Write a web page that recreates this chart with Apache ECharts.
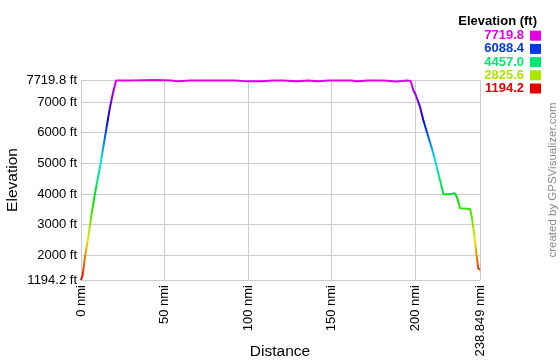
<!DOCTYPE html>
<html>
<head>
<meta charset="utf-8">
<script src="https://cdn.jsdelivr.net/npm/echarts@6/dist/echarts.min.js"></script>
<style>
html,body{margin:0;padding:0;background:#fff;}
#chart{width:560px;height:360px;}
</style>
</head>
<body>
<div id="chart"></div>
<script>
const distances = [
  0, 0.6, 1.0, 2.4, 4.4, 6.4, 8.4, 11.4, 14.4, 17.4, 19.3, 21.0,
  29.0, 29.5, 30.0, 45, 54, 55, 58, 59, 65, 65.5, 80, 87, 88, 92, 93, 100, 101, 108, 109, 115, 121, 122, 129, 130,
  136, 137, 142, 143, 148, 148.5, 155, 162, 163, 165, 166, 172, 172.5, 181, 182, 189, 190, 195, 195.5, 197.4,
  198.9, 200.4, 202.9, 204.9, 207.9, 210.9, 213.9, 215.9, 216.9, 219.9, 222.0, 223.9, 225.3, 226.9, 232.9,
  233.9, 235.3, 236.9, 237.8, 238.849
];
const elevations = [
  1194.2, 1290, 1357, 1955, 2608, 3371, 4023, 4893, 5872, 6849, 7338, 7700,
  7705, 7675, 7705, 7719.8, 7705, 7675, 7680, 7705, 7700, 7675, 7705, 7700, 7670, 7705, 7680, 7675, 7700, 7680, 7705, 7700, 7705, 7675, 7680, 7705,
  7700, 7675, 7680, 7705, 7700, 7675, 7705, 7700, 7675, 7680, 7705, 7700, 7675, 7700, 7680, 7670, 7705, 7700, 7700, 7687,
  7393, 7230, 6849, 6415, 5870, 5328, 4676, 4238, 3990, 3990, 4010, 4023, 3860, 3534, 3510,
  3260, 2720, 1955, 1576, 1520
];
const yTicks = [1194.2, 2000, 3000, 4000, 5000, 6000, 7000, 7719.8];
const xTicks = [0, 50, 100, 150, 200, 238.849];
const legendValues = [7719.8, 6088.4, 4457.0, 2825.6, 1194.2];
const yMin = 1194.2, yMax = 7719.8;

function hsl(h) {
  const s = 1, l = 0.45;
  const c = (1 - Math.abs(2 * l - 1)) * s;
  const hp = h / 60;
  const x = c * (1 - Math.abs(hp % 2 - 1));
  let r = 0, g = 0, b = 0;
  if (hp < 1) { r = c; g = x; } else if (hp < 2) { r = x; g = c; }
  else if (hp < 3) { g = c; b = x; } else if (hp < 4) { g = x; b = c; }
  else if (hp < 5) { r = x; b = c; } else { r = c; b = x; }
  const m = l - c / 2;
  const t = v => Math.round((v + m) * 255).toString(16).padStart(2, '0');
  return '#' + t(r) + t(g) + t(b);
}
const rampColors = [];
for (let h = 0; h <= 300; h += 30) rampColors.push(hsl(h));
const colorFor = v => hsl(300 * (v - yMin) / (yMax - yMin));

const data = distances.map((d, i) => [d, elevations[i]]);

const fontFam = '"Liberation Sans", Arial, sans-serif';
const graphics = [
  { type: 'text', left: null, x: 537, y: 21, style: { text: 'Elevation (ft)', font: 'bold 13px ' + fontFam, fill: '#000', textAlign: 'right', textVerticalAlign: 'middle' } },
  { type: 'text', x: 12.5, y: 180, rotation: Math.PI / 2, style: { text: 'Elevation', font: '15.5px ' + fontFam, fill: '#000', textAlign: 'center', textVerticalAlign: 'middle' } },
  { type: 'text', x: 280, y: 352, style: { text: 'Distance', font: '15.5px ' + fontFam, fill: '#000', textAlign: 'center', textVerticalAlign: 'middle' } },
  { type: 'text', x: 553, y: 180, rotation: Math.PI / 2, style: { text: 'created by GPSVisualizer.com', font: '11.5px ' + fontFam, fill: '#8c8c8c', textAlign: 'center', textVerticalAlign: 'middle' } }
];
legendValues.forEach((v, i) => {
  const cy = 35.7 + i * 13.2;
  const col = colorFor(v);
  graphics.push({ type: 'text', x: 524, y: cy, style: { text: v.toFixed(1), font: 'bold 13px ' + fontFam, fill: col, textAlign: 'right', textVerticalAlign: 'middle' } });
  graphics.push({ type: 'rect', shape: { x: 530, y: cy - 5, width: 11, height: 10 }, style: { fill: col } });
});

const chart = echarts.init(document.getElementById('chart'), null, { renderer: 'canvas' });
chart.setOption({
  animation: false,
  backgroundColor: '#fff',
  grid: { left: 81, right: 80, top: 80, bottom: 80, containLabel: false },
  xAxis: {
    type: 'value', min: 0, max: 238.849,
    axisLine: { show: true, lineStyle: { color: '#ccc', width: 1 } },
    axisTick: { show: false, customValues: xTicks },
    splitLine: { show: true, lineStyle: { color: '#ccc', width: 1 } },
    axisLabel: {
      customValues: xTicks, rotate: 90, margin: 5,
      color: '#000', fontSize: 13, fontFamily: fontFam,
      formatter: v => v + ' nmi'
    }
  },
  yAxis: {
    type: 'value', min: yMin, max: yMax,
    axisLine: { show: true, lineStyle: { color: '#ccc', width: 1 } },
    axisTick: { show: false, customValues: yTicks },
    splitLine: { show: true, lineStyle: { color: '#ccc', width: 1 } },
    axisLabel: {
      customValues: yTicks, margin: 4,
      color: '#000', fontSize: 13, fontFamily: fontFam,
      formatter: v => v + ' ft'
    }
  },
  visualMap: {
    type: 'continuous', show: false, dimension: 1, seriesIndex: 0,
    min: yMin, max: yMax,
    inRange: { color: rampColors }
  },
  series: [{
    type: 'line', data: data, showSymbol: false, symbol: 'none',
    lineStyle: { width: 2 }, clip: false
  }],
  graphic: graphics
});
</script>
</body>
</html>
